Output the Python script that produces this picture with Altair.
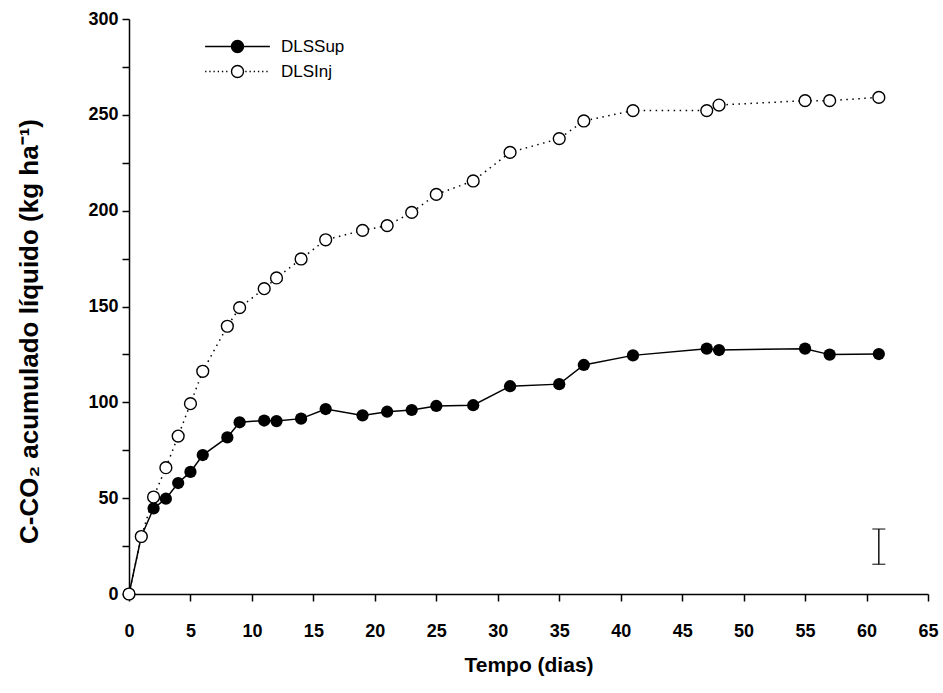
import altair as alt
import pandas as pd

# ---- data ----
days = [0, 1, 2, 3, 4, 5, 6, 8, 9, 11, 12, 14, 16, 19, 21, 23, 25, 28, 31, 35, 37, 41, 47, 48, 55, 57, 61]
dls_sup = [0, 30, 44.7, 49.7, 57.9, 63.7, 72.5, 81.7, 89.6, 90.5, 90.2, 91.5, 96.5, 93.2, 95.1, 96.0,
           98.1, 98.5, 108.4, 109.5, 119.5, 124.5, 128.0, 127.3, 128.0, 124.9, 125.2]
dls_inj = [0, 30, 50.6, 65.9, 82.4, 99.3, 116.2, 139.7, 149.4, 159.3, 164.9, 174.8, 184.8, 189.7,
           192.2, 199.1, 208.5, 215.5, 230.4, 237.6, 246.8, 252.2, 252.2, 255.1, 257.4, 257.4, 259.1]
series_names = ["DLSSup", "DLSInj"]

err_day = [61]
err_low = [15.5]
err_high = [33.9]

x_ticks = list(range(0, 66, 5))
y_ticks = list(range(0, 301, 25))

df_sup = pd.DataFrame({"day": days, "value": dls_sup, "series": series_names[0]})
df_inj = pd.DataFrame({"day": days, "value": dls_inj, "series": series_names[1]})
df_all = pd.concat([df_sup, df_inj], ignore_index=True)
df_err = pd.DataFrame({"day": err_day, "low": err_low, "high": err_high})

FONT = "Liberation Sans"

x_enc = alt.X("day:Q", scale=alt.Scale(domain=[0, 65], nice=False, zero=False),
              axis=alt.Axis(values=x_ticks, title="Tempo (dias)", grid=False,
                            labelFont=FONT, labelFontSize=18, labelFontWeight="bold",
                            labelColor="black", labelPadding=21, labelFlush=False,
                            titleFont=FONT, titleFontSize=21, titleFontWeight="bold",
                            titleColor="black", titlePadding=14,
                            tickSize=7, tickWidth=1.5, tickColor="black",
                            domainColor="black", domainWidth=1.5))
y_enc = alt.Y("value:Q", scale=alt.Scale(domain=[0, 300], nice=False),
              axis=alt.Axis(values=y_ticks, title="C-CO₂ acumulado líquido (kg ha⁻¹)", grid=False,
                            labelExpr="datum.value % 50 == 0 ? datum.label : ''",
                            labelFont=FONT, labelFontSize=18, labelFontWeight="bold",
                            labelColor="black", labelPadding=4, labelFlush=False,
                            titleFont=FONT, titleFontSize=26, titleFontWeight="bold",
                            titleColor="black", titlePadding=45, titleY=312,
                            tickSize=7, tickWidth=1.5, tickColor="black",
                            domainColor="black", domainWidth=1.5))

sup_line = alt.Chart(df_sup).mark_line(color="black", strokeWidth=1.5).encode(x=x_enc, y=y_enc)
sup_pts = alt.Chart(df_sup).mark_point(filled=True, color="black", size=150, opacity=1).encode(x="day:Q", y="value:Q")
inj_line = alt.Chart(df_inj).mark_line(color="black", strokeWidth=1.5, strokeDash=[1.5, 4.5]).encode(x="day:Q", y="value:Q")
inj_pts = alt.Chart(df_inj).mark_point(fill="white", stroke="black", strokeWidth=1.4, size=140,
                                       opacity=1, fillOpacity=1).encode(x="day:Q", y="value:Q")

err_rule = alt.Chart(df_err).mark_rule(color="black", strokeWidth=1.4).encode(
    x="day:Q", y="low:Q", y2="high:Q")
err_cap_low = alt.Chart(df_err).mark_tick(color="black", orient="horizontal", size=13, thickness=1.4).encode(
    x="day:Q", y="low:Q")
err_cap_high = alt.Chart(df_err).mark_tick(color="black", orient="horizontal", size=13, thickness=1.4).encode(
    x="day:Q", y="high:Q")

# legend symbols: line sample + circle as custom paths (unit box scaled by sqrt(size)/2)
circle = "M1,0A1,1,0,1,1,-1,0A1,1,0,1,1,1,0Z"
solid_path = "M-5.4,0L5.4,0" + circle
dots = []
p = -5.4
while p < -1.2:
    dots.append(f"M{p:.2f},0L{p + 0.22:.2f},0")
    p += 0.7
p = 1.3
while p < 5.4:
    dots.append(f"M{p:.2f},0L{p + 0.22:.2f},0")
    p += 0.7
dotted_path = "".join(dots) + circle

legend_props = dict(title=None, orient="none", legendX=100, legendY=19,
                    symbolSize=144, symbolStrokeWidth=1.4,
                    labelFont=FONT, labelFontSize=17, labelColor="black",
                    labelOffset=35, rowPadding=6, padding=0)

legend_layer = alt.Chart(df_all).transform_filter("datum.day < 0").mark_point(
    strokeWidth=1.4, opacity=1).encode(
    x="day:Q", y="value:Q",
    shape=alt.Shape("series:N", scale=alt.Scale(domain=series_names, range=[solid_path, dotted_path]),
                    legend=alt.Legend(**legend_props)),
    fill=alt.Fill("series:N", scale=alt.Scale(domain=series_names, range=["black", "white"]),
                  legend=alt.Legend(**legend_props)),
    stroke=alt.Stroke("series:N", scale=alt.Scale(domain=series_names, range=["black", "black"]),
                      legend=alt.Legend(**legend_props)),
)

chart = alt.layer(
    sup_line, sup_pts, inj_line, inj_pts, err_rule, err_cap_low, err_cap_high, legend_layer
).properties(
    width=799, height=575,
    autosize=alt.AutoSizeParams(type="none"),
    padding={"left": 129, "top": 19, "right": 15, "bottom": 99},
    background="white",
).configure_view(stroke=None)

chart.save("out.html", embed_options={"renderer": "svg", "actions": False})
